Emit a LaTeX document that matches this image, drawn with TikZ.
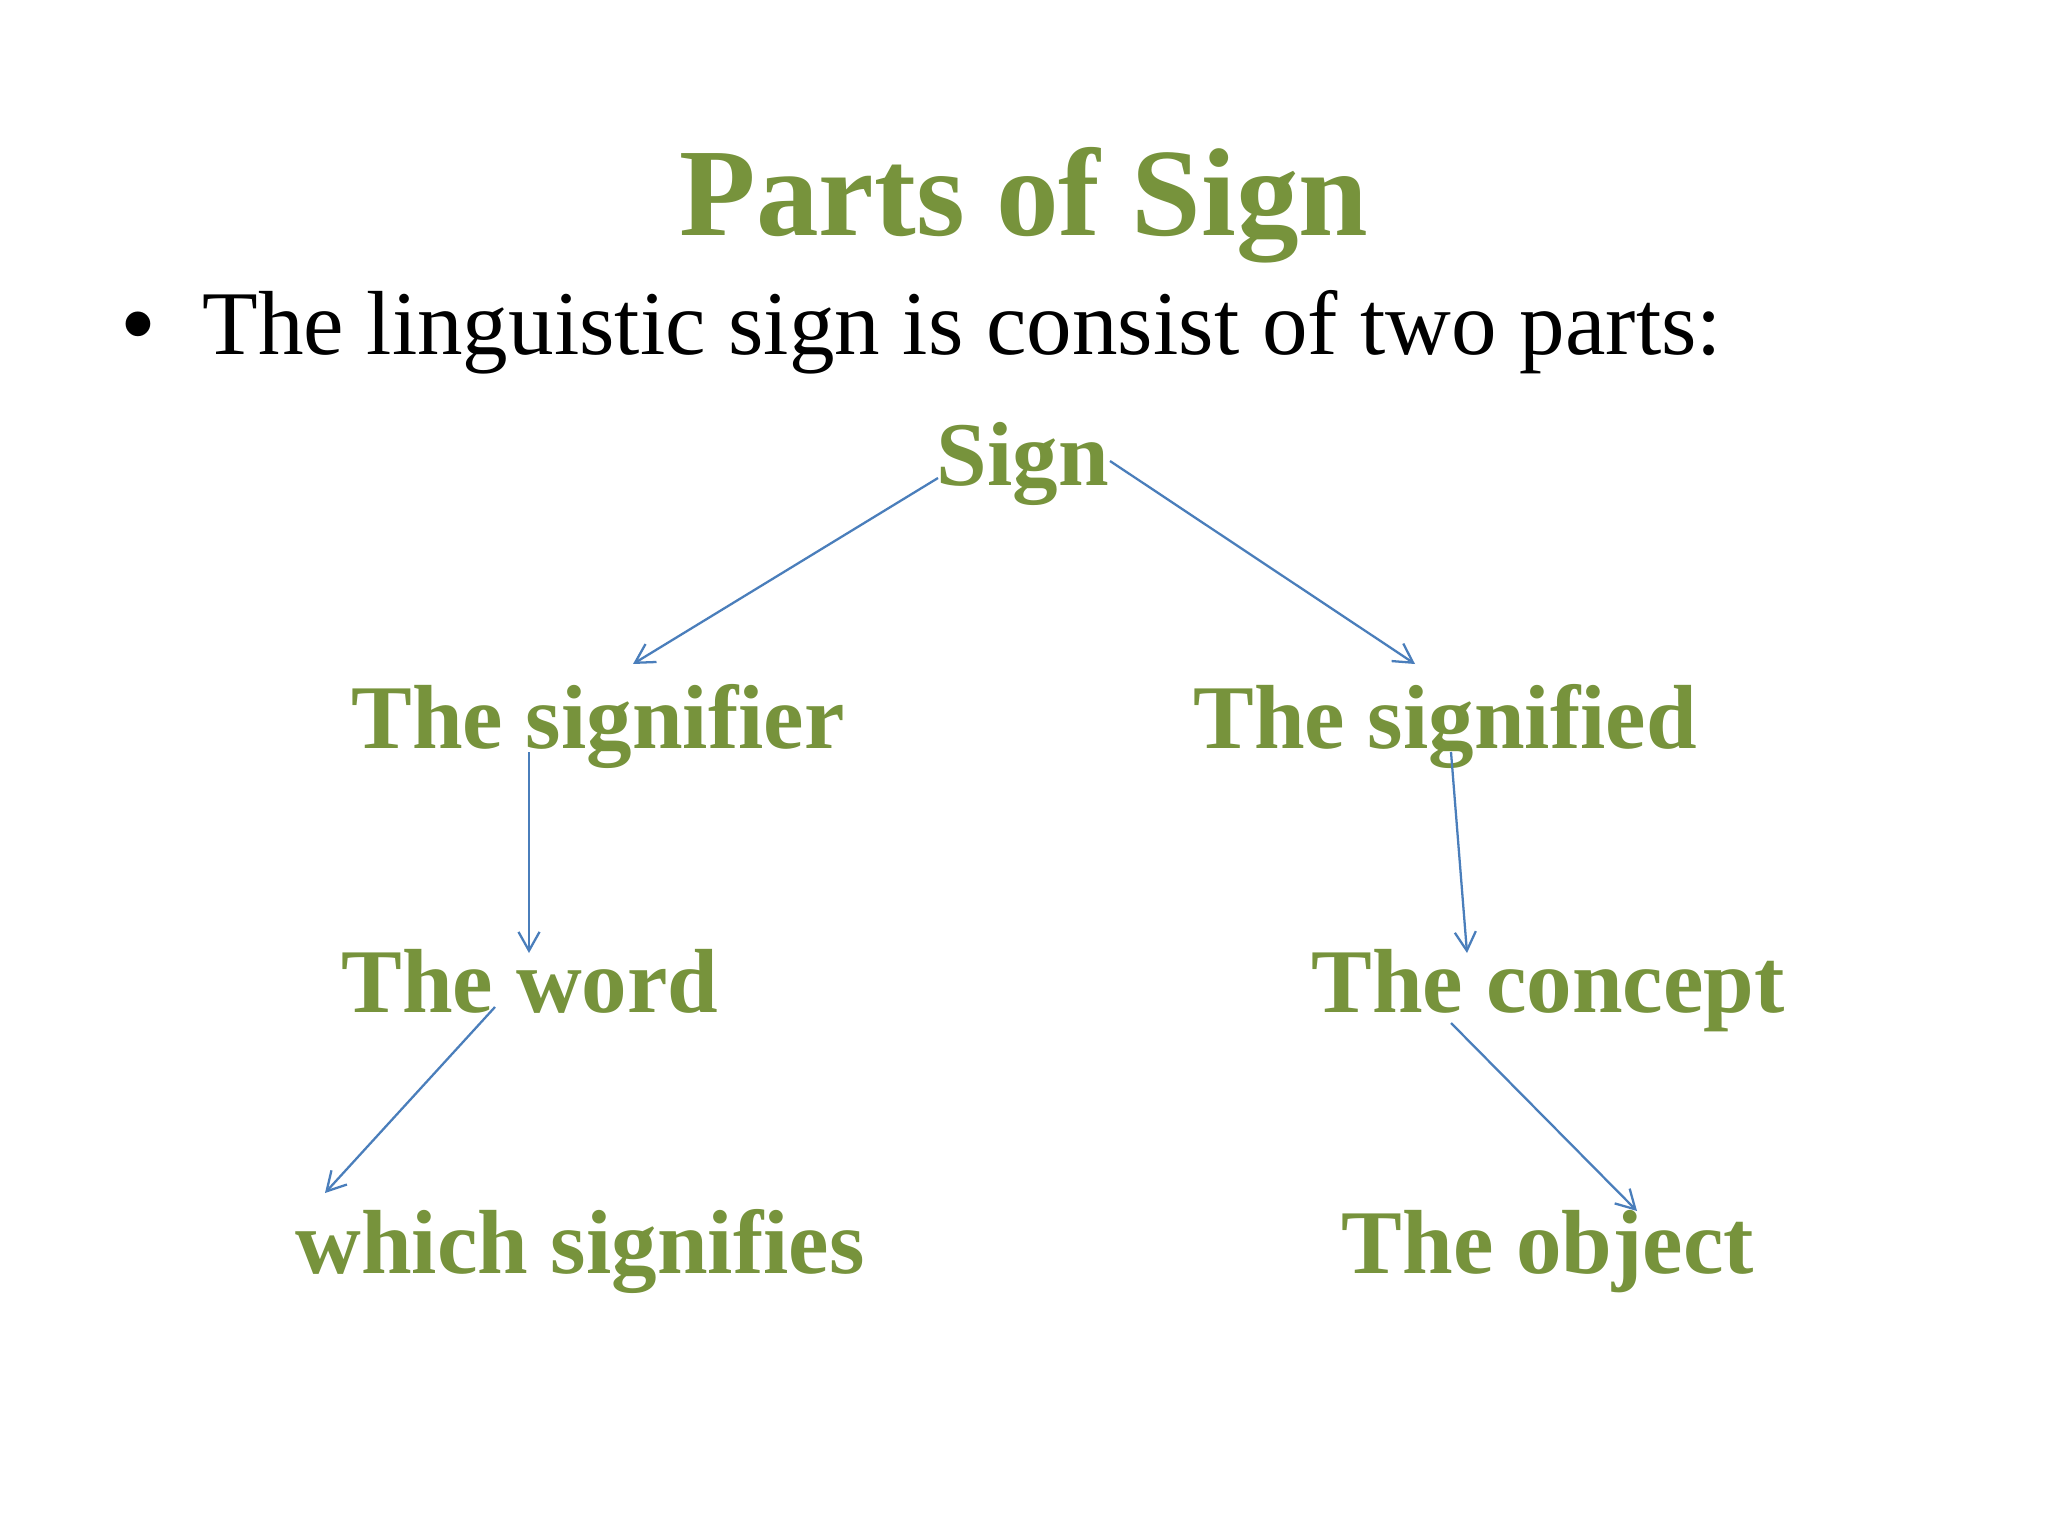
\documentclass[tikz,border=0pt]{standalone}
\usepackage{fontspec}
\setmainfont{Liberation Serif}
\newfontfamily\bulletfont{Liberation Sans}
\usetikzlibrary{arrows.meta}
\definecolor{olivegreen}{HTML}{77933C}
\definecolor{arrowblue}{HTML}{4A7EBB}
\tikzset{
  lbl/.style={anchor=base, inner sep=0pt, text=olivegreen, font=\fontsize{32}{38}\selectfont\bfseries},
  titlestyle/.style={anchor=base, inner sep=0pt, text=olivegreen, font=\fontsize{44}{52}\selectfont\bfseries},
  bodytext/.style={anchor=base west, inner sep=0pt, text=black, font=\fontsize{32}{38}\selectfont},
  link/.style={draw=arrowblue, line width=0.8pt, -{Straight Barb[length=6.6pt,width=7.4pt]}}
}
\begin{document}
\begin{tikzpicture}[x=0.3515625pt, y=-0.3515625pt]
\useasboundingbox[fill=white] (0,0) rectangle (2048,1536);
% title and bullet
\node[titlestyle] (title) at (1024,236) {Parts of Sign};
\node[bodytext, font=\fontsize{32}{38}\selectfont\bulletfont] (bullet) at (122,355) {•};
\node[bodytext] (intro) at (202,355) {The linguistic sign is consist of two parts:};
% tree labels
\node[lbl] (sign) at (1023,486) {Sign};
\node[lbl] (signifier) at (598,748) {The signifier};
\node[lbl] (signified) at (1445,748) {The signified};
\node[lbl] (word) at (530,1012) {The word};
\node[lbl] (concept) at (1548,1012) {The concept};
\node[lbl] (which) at (580,1273) {which signifies};
\node[lbl] (object) at (1548,1273) {The object};
% connector end points
\coordinate (s1) at (938,478);   \coordinate (e1) at (633,664);
\coordinate (s2) at (1110,461);  \coordinate (e2) at (1415,664);
\coordinate (s3) at (529,752);   \coordinate (e3) at (529,953);
\coordinate (s4) at (1451,752);  \coordinate (e4) at (1467,953);
\coordinate (s5) at (495,1007);  \coordinate (e5) at (325,1193);
\coordinate (s6) at (1451,1023); \coordinate (e6) at (1637,1211);
\draw[link] (s1) -- (e1);
\draw[link] (s2) -- (e2);
\draw[link] (s3) -- (e3);
\draw[link] (s4) -- (e4);
\draw[link] (s5) -- (e5);
\draw[link] (s6) -- (e6);
\end{tikzpicture}
\end{document}
